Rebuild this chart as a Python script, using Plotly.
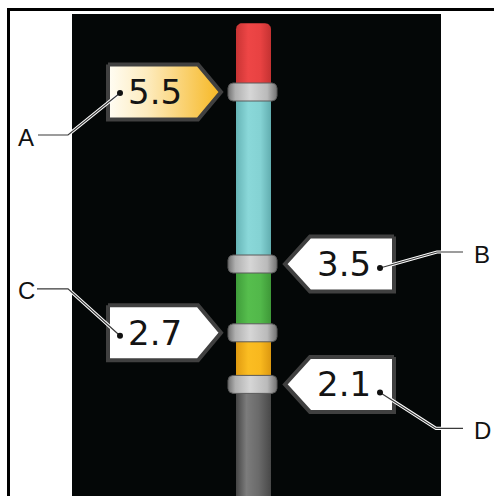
import numpy as np
import plotly.graph_objects as go

# ---------------- data ----------------
levels = [5.5, 3.5, 2.7, 2.1]
level_text = ["5.5", "3.5", "2.7", "2.1"]
letters = ["A", "B", "C", "D"]
sides = ["left", "right", "left", "right"]
top_value = 6.3
# colours of the column segments, from the top down
segment_scales = [
    [[0, "#c93434"], [0.35, "#ee4646"], [0.7, "#e84242"], [1, "#c43232"]],
    [[0, "#66b4b6"], [0.35, "#8ad8d9"], [0.7, "#84d2d3"], [1, "#62aeb0"]],
    [[0, "#3f9c3a"], [0.35, "#56be4d"], [0.7, "#52b84a"], [1, "#3e9838"]],
    [[0, "#e09a10"], [0.35, "#fbbd22"], [0.7, "#f8b81e"], [1, "#dc9810"]],
    [[0, "#454545"], [0.3, "#7c7c7c"], [0.65, "#6a6a6a"], [1, "#484848"]],
]
label_fill_scales = [
    [[0, "#fffdf4"], [0.35, "#fdebbd"], [1, "#f6b722"]],
    [[0, "#ffffff"], [1, "#ffffff"]],
    [[0, "#ffffff"], [1, "#ffffff"]],
    [[0, "#ffffff"], [1, "#ffffff"]],
]

# ---------------- layout constants (pixels) ----------------
W, H = 494, 496
PX = 86.0                      # pixels per unit on the value axis
V_TOP = 5.5 + 92 / PX          # value at top edge of the picture
V_BOT = V_TOP - H / PX         # value at bottom edge


def dv(p):
    return p / PX


ROD_X0, ROD_X1 = 236, 271
RING_X0, RING_X1 = 228, 277
RING_H = 18
LABEL_HALF = 27.5
GEOM = {
    "left": dict(x0=108, base=198, tip=221, text=155, dot=120),
    "right": dict(x0=394, base=310, tip=285, text=344, dot=380),
}
dot_dy = [1, 4, 3, 8]              # px below level
bend_dy = [43, -12, -44, 44]       # px below level
bend_x = [68, 437, 68, 436]
end_x = [38, 463, 37, 463]
letter_x = [26, 482, 26, 482]

fig = go.Figure()


def rounded_rect(x0, x1, yc_v, h, r, top_only=False, y_top_v=None, y_bot_v=None):
    # build polygon in pixel-x / value-y
    if y_top_v is None:
        y_top_v = yc_v + dv(h / 2)
        y_bot_v = yc_v - dv(h / 2)
    pts = []
    n = 8
    for t in np.linspace(np.pi, np.pi / 2, n):
        pts.append((x0 + r + r * np.cos(t), y_top_v - dv(r) + dv(r) * np.sin(t)))
    for t in np.linspace(np.pi / 2, 0, n):
        pts.append((x1 - r + r * np.cos(t), y_top_v - dv(r) + dv(r) * np.sin(t)))
    if top_only:
        pts.append((x1, y_bot_v))
        pts.append((x0, y_bot_v))
    else:
        for t in np.linspace(0, -np.pi / 2, n):
            pts.append((x1 - r + r * np.cos(t), y_bot_v + dv(r) + dv(r) * np.sin(t)))
        for t in np.linspace(-np.pi / 2, -np.pi, n):
            pts.append((x0 + r + r * np.cos(t), y_bot_v + dv(r) + dv(r) * np.sin(t)))
    pts.append(pts[0])
    xs, ys = zip(*pts)
    return list(xs), list(ys)


# column segments
bounds = [top_value] + levels + [V_BOT - 0.2]
for i in range(len(bounds) - 1):
    if i == 0:
        xs, ys = rounded_rect(ROD_X0, ROD_X1, None, None, 6, top_only=True,
                              y_top_v=bounds[0], y_bot_v=bounds[1])
    else:
        xs = [ROD_X0, ROD_X1, ROD_X1, ROD_X0, ROD_X0]
        ys = [bounds[i], bounds[i], bounds[i + 1], bounds[i + 1], bounds[i]]
    fig.add_trace(go.Scatter(
        x=xs, y=ys, mode="lines", fill="toself",
        fillgradient=dict(type="horizontal", colorscale=segment_scales[i]),
        line=dict(width=0, color="rgba(0,0,0,0)"), hoverinfo="skip", showlegend=False))

# rings
ring_scale = [[0, "#707070"], [0.15, "#b0b0b0"], [0.45, "#d6d6d6"],
              [0.8, "#bababa"], [1, "#727272"]]
for v in levels:
    xs, ys = rounded_rect(RING_X0, RING_X1, v, RING_H, 5)
    fig.add_trace(go.Scatter(
        x=xs, y=ys, mode="lines", fill="toself",
        fillgradient=dict(type="horizontal", colorscale=ring_scale),
        line=dict(width=1, color="#5a5a5a"), hoverinfo="skip", showlegend=False))

# callout labels
for i, v in enumerate(levels):
    g = GEOM[sides[i]]
    top = v + dv(LABEL_HALF)
    bot = v - dv(LABEL_HALF)
    xs = [g["x0"], g["base"], g["tip"], g["base"], g["x0"], g["x0"]]
    ys = [top, top, v, bot, bot, top]
    fig.add_trace(go.Scatter(
        x=xs, y=ys, mode="lines", fill="toself",
        fillgradient=dict(type="horizontal", colorscale=label_fill_scales[i]),
        line=dict(width=4, color="#404040"), hoverinfo="skip", showlegend=False))
    fig.add_annotation(x=g["text"], y=v, xref="x", yref="y", text=level_text[i],
                       showarrow=False, xanchor="center", yanchor="middle",
                       font=dict(family="DejaVu Sans", size=34, color="#141414"))

# leader lines
for i, v in enumerate(levels):
    g = GEOM[sides[i]]
    dot_y = v - dv(dot_dy[i])
    bend_y = v - dv(bend_dy[i])
    lx = [g["dot"], bend_x[i], end_x[i]]
    ly = [dot_y, bend_y, bend_y]
    fig.add_trace(go.Scatter(x=lx, y=ly, mode="lines",
                             line=dict(width=3.2, color="#ffffff"),
                             hoverinfo="skip", showlegend=False))
    fig.add_trace(go.Scatter(x=lx, y=ly, mode="lines",
                             line=dict(width=1.2, color="#3a3a3a"),
                             hoverinfo="skip", showlegend=False))
    fig.add_trace(go.Scatter(x=[g["dot"]], y=[dot_y], mode="markers",
                             marker=dict(size=6, color="#111111"),
                             hoverinfo="skip", showlegend=False))
    fig.add_annotation(x=letter_x[i], y=bend_y - dv(2), xref="x", yref="y",
                       text=letters[i], showarrow=False,
                       xanchor="center", yanchor="middle",
                       font=dict(family="Liberation Sans", size=24, color="#111111"))

# frame and dark panel
shapes = [
    dict(type="rect", xref="x", yref="paper", x0=72, x1=441, y0=-0.01,
         y1=1 - 14 / H, fillcolor="#040707", line=dict(width=0), layer="below"),
    dict(type="rect", xref="x", yref="paper", x0=7, x1=494, y0=1 - 11 / H,
         y1=1 - 8 / H, fillcolor="#000000", line=dict(width=0), layer="below"),
    dict(type="rect", xref="x", yref="paper", x0=7, x1=10, y0=-0.01,
         y1=1 - 8 / H, fillcolor="#000000", line=dict(width=0), layer="below"),
]

fig.update_layout(
    width=W, height=H, margin=dict(l=0, r=0, t=0, b=0),
    paper_bgcolor="#ffffff", plot_bgcolor="rgba(0,0,0,0)",
    shapes=shapes, showlegend=False,
    xaxis=dict(range=[0, W], visible=False, fixedrange=True),
    yaxis=dict(range=[V_BOT, V_TOP], visible=False, fixedrange=True),
)

fig.write_html("out.html", post_script="document.body.style.margin='0';",
               config={"displayModeBar": False})
